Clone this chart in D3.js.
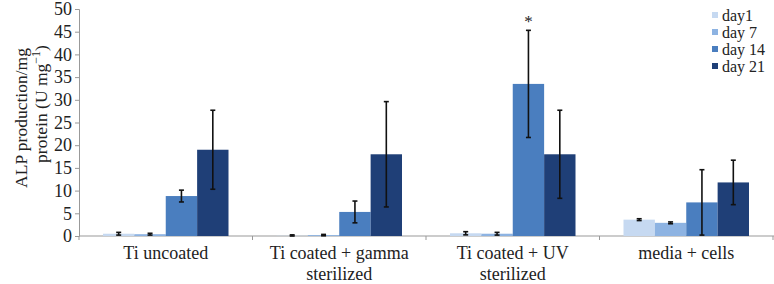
<!DOCTYPE html>
<html><head><meta charset="utf-8">
<script src="https://cdn.jsdelivr.net/npm/d3@7"></script>
<style>body{margin:0;background:#fff}svg{display:block}</style>
</head><body><svg id="c" width="774" height="284"></svg>
<script>
const categories = [["Ti uncoated"],["Ti coated + gamma","sterilized"],["Ti coated + UV","sterilized"],["media + cells"]];
const seriesNames = ["day1","day 7","day 14","day 21"];
const day1  = [0.5, 0.05, 0.6, 3.6];
const day7  = [0.4, 0.2, 0.5, 2.9];
const day14 = [8.8, 5.3, 33.5, 7.4];
const day21 = [19.0, 18.0, 18.0, 11.8];
const err1  = [0.3, 0.2, 0.35, 0.2];
const err7  = [0.2, 0.15, 0.3, 0.2];
const err14 = [1.3, 2.4, 11.8, 7.2];
const err21 = [8.7, 11.6, 9.7, 4.9];
const yTicks = [0,5,10,15,20,25,30,35,40,45,50];
const colors = ["#c6d9f1","#8db3e2","#4a7ebf","#1f3f77"];

const FONT="'Liberation Serif', 'Times New Roman', Times, 'DejaVu Serif', serif";
const values=[day1,day7,day14,day21], errs=[err1,err7,err14,err21];
const svg=d3.select("#c").attr("font-family",FONT).style("font-family",FONT);
const L=79,R=773,T=9,B=236;
const x0=d3.scaleBand().domain(d3.range(categories.length)).range([L,R]).paddingInner(0).paddingOuter(0);
const x1=d3.scaleBand().domain(d3.range(4)).range([24,x0.bandwidth()-24]);
const y=d3.scaleLinear().domain([0,50]).range([B,T]);

function txt(sel){return sel.attr("font-family",FONT).style("font-family",FONT).attr("fill","#222");}

// y axis
const ya=svg.append("g").attr("transform",`translate(${L},0)`).call(d3.axisLeft(y).tickValues(yTicks).tickSize(4).tickPadding(3));
ya.attr("font-family",FONT);
ya.select(".domain").attr("stroke","#999");
ya.selectAll(".tick line").attr("stroke","#999");
txt(ya.selectAll("text")).attr("font-size",18);

// x axis
svg.append("line").attr("x1",L).attr("x2",R+1).attr("y1",B).attr("y2",B).attr("stroke","#999");
d3.range(categories.length+1).forEach(i=>{
  const xx=i<categories.length?x0(i):R;
  svg.append("line").attr("x1",xx).attr("x2",xx).attr("y1",B).attr("y2",B+4).attr("stroke","#999");
});
categories.forEach((lines,i)=>{
  lines.forEach((t,j)=>{
    txt(svg.append("text")).attr("x",x0(i)+x0.bandwidth()/2).attr("y",259+j*21)
      .attr("text-anchor","middle").attr("font-size",18).text(t);
  });
});

// bars
categories.forEach((c,i)=>{
  values.forEach((vals,s)=>{
    const bx=x0(i)+x1(s), bw=x1.bandwidth();
    svg.append("rect").attr("x",bx).attr("y",y(vals[i])).attr("width",bw).attr("height",B-y(vals[i])).attr("fill",colors[s]);
  });
});
// error bars
categories.forEach((c,i)=>{
  values.forEach((vals,s)=>{
    const cx=x0(i)+x1(s)+x1.bandwidth()/2;
    const lo=Math.max(0,vals[i]-errs[s][i]), hi=vals[i]+errs[s][i];
    const g=svg.append("g").attr("stroke","#111").attr("stroke-width",1.6);
    g.append("line").attr("x1",cx).attr("x2",cx).attr("y1",y(lo)).attr("y2",y(hi));
    g.append("line").attr("x1",cx-2.5).attr("x2",cx+2.5).attr("y1",y(lo)).attr("y2",y(lo));
    g.append("line").attr("x1",cx-2.5).attr("x2",cx+2.5).attr("y1",y(hi)).attr("y2",y(hi));
  });
});
// significance asterisk
txt(svg.append("text")).attr("x",x0(2)+x1(2)+x1.bandwidth()/2).attr("y",y(day14[2]+err14[2])-3)
  .attr("text-anchor","middle").attr("font-size",17).text("*");

// y title
txt(svg.append("text")).attr("transform","translate(27,118) rotate(-90)").attr("text-anchor","middle")
  .attr("font-size",17.5).text("ALP production/mg");
const yt=txt(svg.append("text")).attr("transform","translate(47,104) rotate(-90)").attr("text-anchor","middle").attr("font-size",17.5);
yt.append("tspan").text("protein (U mg");
yt.append("tspan").attr("dy",-7).attr("font-size",12).text("−1");
yt.append("tspan").attr("dy",7).text(")");

// legend
seriesNames.forEach((n,s)=>{
  const ly=15+s*17;
  svg.append("rect").attr("x",712).attr("y",ly-3).attr("width",6).attr("height",6).attr("fill",colors[s]);
  txt(svg.append("text")).attr("x",722).attr("y",ly).attr("dy","0.35em").attr("font-size",16).text(n);
});
</script></body></html>
